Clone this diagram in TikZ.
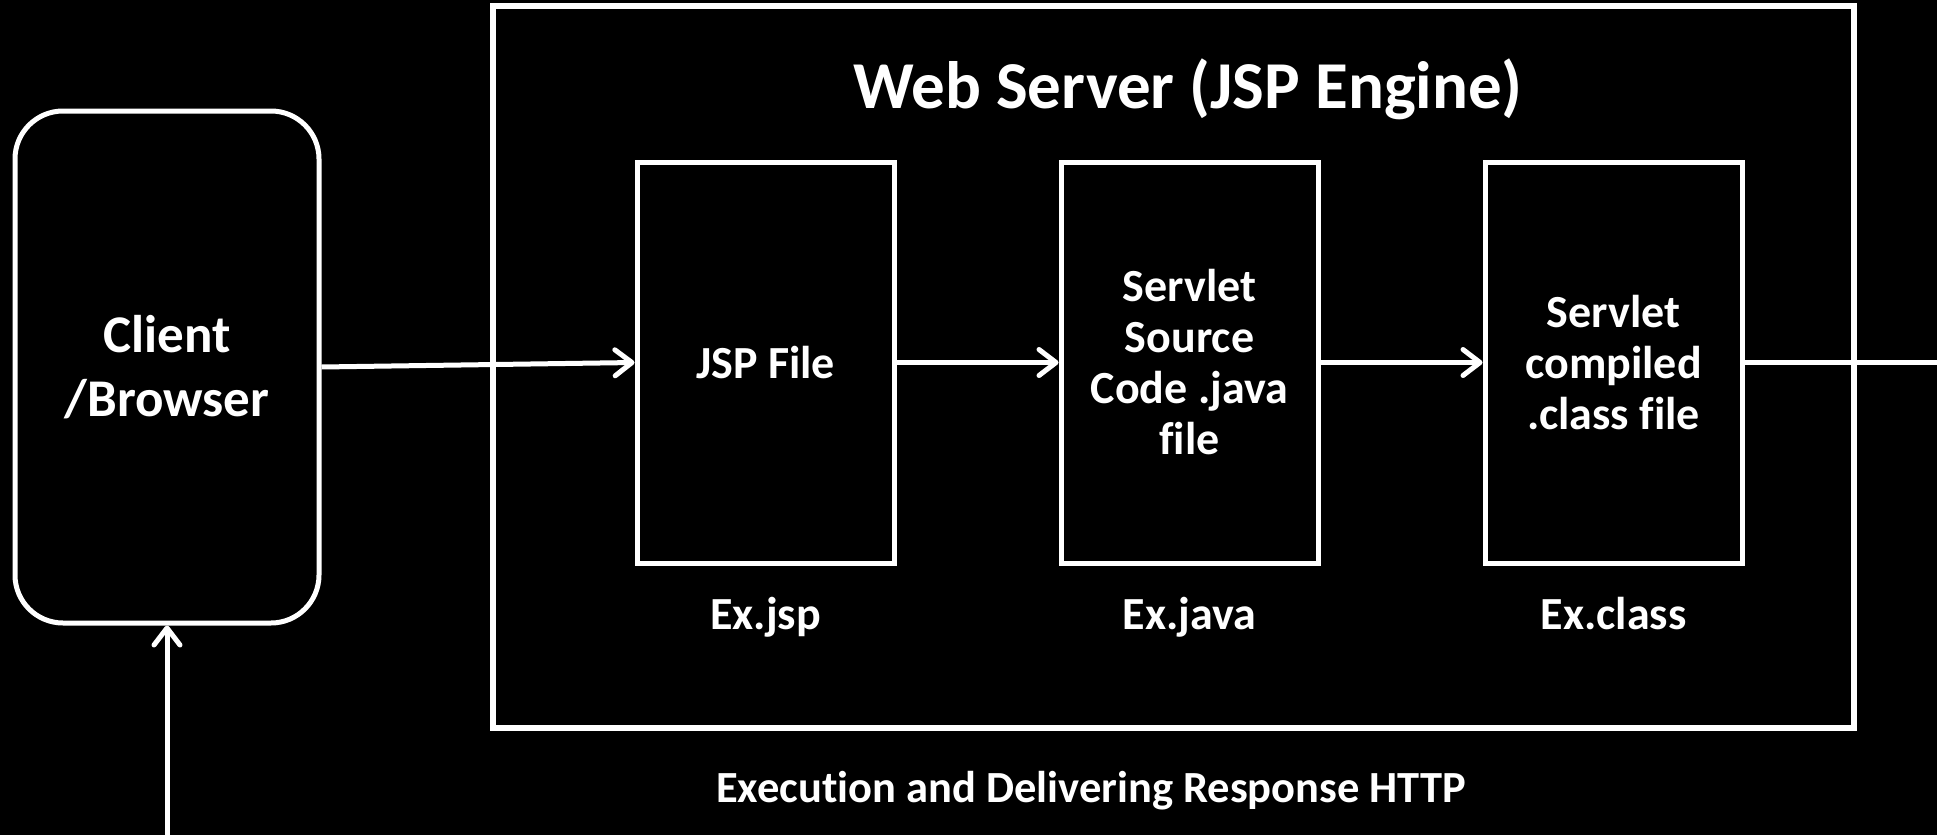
\documentclass[tikz,border=0pt]{standalone}
\usepackage{fontspec}
\setmainfont{Carlito}[Ligatures=CommonOff]
\usetikzlibrary{arrows.meta, positioning, calc}

\begin{document}
\begin{tikzpicture}[x=1pt, y=-1pt,
  filebox/.style={draw=white, line width=5pt, minimum width=257pt, minimum height=401pt, align=center, text=white, font=\bfseries\fontsize{46}{51}\selectfont},
  caption/.style={text=white, font=\bfseries\fontsize{46}{51}\selectfont},
  conn/.style={draw=white, line width=5pt, -{Straight Barb[length=17pt, width=26pt, round]}}]

  % background and page size
  \fill[black] (0,0) rectangle (1937,835);
  \useasboundingbox (0,0) rectangle (1937,835);

  % client side
  \node[draw=white, line width=5pt, rounded corners=48pt, minimum width=304pt, minimum height=512pt, align=center, text=white, font=\bfseries\fontsize{53}{64}\selectfont] (client) at (167,367) {Client\\/Browser};

  % web server with its three files
  \node[draw=white, line width=6pt, minimum width=1361pt, minimum height=722pt] (server) at (1173.5,367) {};
  \node[text=white, font=\bfseries\fontsize{67}{72}\selectfont, anchor=base] (title) at (1188,108) {Web Server (JSP Engine)};

  \node[filebox] (jsp) at (765.5,362.5) {JSP File};
  \node[filebox] (src) at (1189.5,362.5) {Servlet\\Source\\Code .java\\file};
  \node[filebox] (cls) at (1613.5,362.5) {Servlet\\compiled\\.class file};

  \node[caption, below=64pt of jsp, anchor=base] (jspname) {Ex.jsp};
  \node[caption, below=64pt of src, anchor=base] (srcname) {Ex.java};
  \node[caption, below=64pt of cls, anchor=base] (clsname) {Ex.class};

  \node[caption, font=\bfseries\fontsize{44.5}{51}\selectfont, anchor=base] (resp) at (1091,802) {Execution and Delivering Response HTTP};

  % request path
  \draw[conn] (client.east) -- (jsp.west);
  \draw[conn] (jsp.east) -- (src.west);
  \draw[conn] (src.east) -- (cls.west);

  % response goes round the outside
  \coordinate (farright) at (1990,837);
  \draw[conn] (cls.east) -| (farright) -| (client.south);
\end{tikzpicture}
\end{document}
